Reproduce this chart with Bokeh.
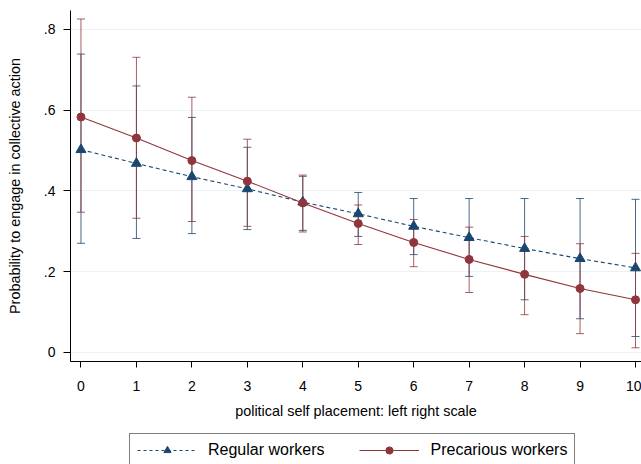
from bokeh.plotting import figure
from bokeh.layouts import column
from bokeh.models import Whisker, TeeHead, ColumnDataSource, Legend, LegendItem, FixedTicker, Range1d
from bokeh.embed import file_html
from bokeh.resources import INLINE

x = [0, 1, 2, 3, 4, 5, 6, 7, 8, 9, 10]
regular = [0.502, 0.468, 0.435, 0.405, 0.372, 0.343, 0.312, 0.284, 0.257, 0.232, 0.209]
regular_lo = [0.270, 0.282, 0.294, 0.304, 0.302, 0.287, 0.242, 0.188, 0.130, 0.083, 0.039]
regular_hi = [0.739, 0.660, 0.582, 0.508, 0.436, 0.396, 0.381, 0.381, 0.381, 0.381, 0.379]
precarious = [0.583, 0.531, 0.475, 0.424, 0.370, 0.319, 0.272, 0.230, 0.193, 0.158, 0.130]
precarious_lo = [0.347, 0.332, 0.324, 0.312, 0.298, 0.267, 0.212, 0.148, 0.093, 0.046, 0.011]
precarious_hi = [0.826, 0.731, 0.632, 0.528, 0.439, 0.365, 0.329, 0.310, 0.287, 0.269, 0.245]
y_ticks = [0, 0.2, 0.4, 0.6, 0.8]
y_tick_labels = {0: "0", 0.2: ".2", 0.4: ".4", 0.6: ".6", 0.8: ".8"}
series_names = ["Regular workers", "Precarious workers"]

NAVY = "#1a476f"
MAROON = "#90353b"
FONT = "Liberation Sans"

src_r = ColumnDataSource(dict(x=x, y=regular, lo=regular_lo, hi=regular_hi))
src_p = ColumnDataSource(dict(x=x, y=precarious, lo=precarious_lo, hi=precarious_hi))

xr = Range1d(-0.189, 10.108)
p = figure(width=641, height=425, output_backend="svg", toolbar_location=None,
           x_range=xr, y_range=(-0.023, 0.847),
           min_border_left=70, min_border_right=0, min_border_top=10, min_border_bottom=64)
p.outline_line_color = None
p.background_fill_color = "white"
p.border_fill_color = "white"

# error bars
for src, col in ((src_r, NAVY), (src_p, MAROON)):
    w = Whisker(source=src, base="x", lower="lo", upper="hi",
                line_color=col, line_width=1, line_alpha=0.8,
                upper_head=TeeHead(size=8, line_color=col, line_width=1, line_alpha=0.8),
                lower_head=TeeHead(size=8, line_color=col, line_width=1, line_alpha=0.8))
    p.add_layout(w)

def draw_series(fig, src, col, dash, marker, size):
    ln = fig.line("x", "y", source=src, line_color=col, line_width=1.1, line_dash=dash)
    mk = fig.scatter("x", "y", source=src, marker=marker, size=size, fill_color=col, line_color=col)
    return ln, mk

draw_series(p, src_r, NAVY, "4 3", "triangle", 10)
draw_series(p, src_p, MAROON, "solid", "circle", 8)

# axes
p.xaxis.ticker = FixedTicker(ticks=x)
p.yaxis.ticker = FixedTicker(ticks=y_ticks)
p.yaxis.major_label_overrides = y_tick_labels
p.xaxis.axis_label = "political self placement: left right scale"
p.yaxis.axis_label = "Probability to engage in collective action"
for ax in (p.xaxis, p.yaxis):
    ax.axis_line_color = "black"
    ax.axis_line_width = 1
    ax.major_tick_line_color = "black"
    ax.major_tick_out = 7
    ax.major_tick_in = 0
    ax.minor_tick_line_color = None
    ax.major_label_text_font = FONT
    ax.major_label_text_font_size = "14px"
    ax.major_label_text_color = "black"
    ax.axis_label_text_font = FONT
    ax.axis_label_text_font_size = "14.4px"
    ax.axis_label_text_font_style = "normal"
    ax.axis_label_text_color = "black"
p.yaxis.major_label_orientation = "horizontal"
p.yaxis.major_label_standoff = 8
p.yaxis.axis_label_standoff = 18
p.xaxis.major_tick_out = 6
p.xaxis.major_label_standoff = 13
p.xaxis.axis_label_standoff = 9

p.xgrid.grid_line_color = None
p.ygrid.grid_line_color = "#eaf2f3"
p.ygrid.grid_line_width = 1

# legend strip: same series drawn outside its visible y-range, only used as legend keys
lg = figure(width=641, height=39, output_backend="svg", toolbar_location=None,
            x_axis_type=None, y_axis_type=None, x_range=xr, y_range=(-3, -2),
            min_border_left=70, min_border_right=0, min_border_top=0, min_border_bottom=0)
lg.outline_line_color = None
lg.xgrid.grid_line_color = None
lg.ygrid.grid_line_color = None
lg.background_fill_color = "white"
lg.border_fill_color = "white"
kr = draw_series(lg, src_r, NAVY, "3 3", "triangle", 8)
kp = draw_series(lg, src_p, MAROON, "solid", "circle", 6)

legend = Legend(items=[
    LegendItem(label=series_names[0], renderers=list(kr)),
    LegendItem(label=series_names[1], renderers=list(kp)),
], location=(59, -3), orientation="horizontal")
legend.label_text_font = FONT
legend.label_text_font_size = "16px"
legend.label_text_color = "black"
legend.glyph_width = 60
legend.glyph_height = 18
legend.label_height = 18
legend.label_standoff = 11
legend.spacing = 35
legend.padding = 7
legend.margin = 0
legend.border_line_color = "black"
legend.border_line_width = 1
legend.background_fill_color = "white"
legend.background_fill_alpha = 1
lg.add_layout(legend, "center")

layout = column(p, lg, spacing=0)
open("out.html", "w").write(file_html(layout, INLINE))
